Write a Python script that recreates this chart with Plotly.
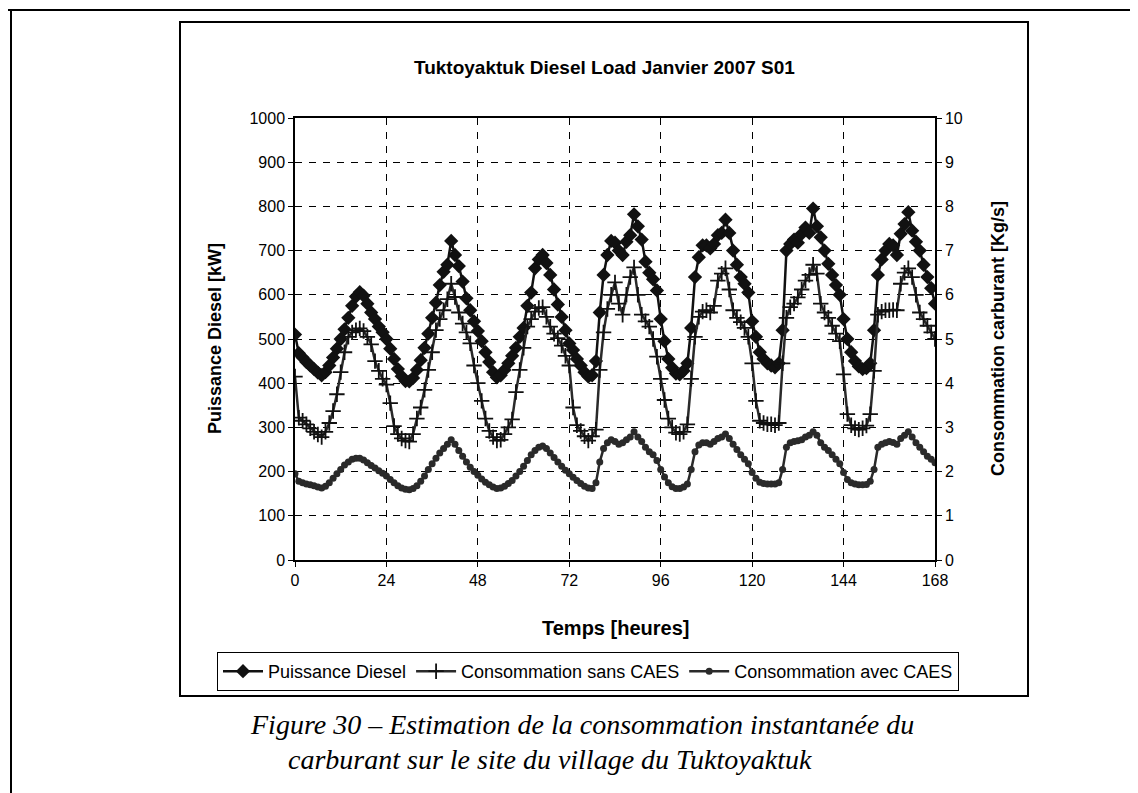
import plotly.graph_objects as go

# hourly samples over one week (S01, January 2007)
hours = list(range(0, 169))

diesel_kw = [
    510, 468, 458, 448, 440, 432, 424, 418, 425, 440,
    458, 478, 500, 522, 548, 575, 596, 606, 598, 580,
    560, 545, 528, 515, 500, 478, 455, 432, 416, 405,
    404, 412, 430, 452, 480, 512, 548, 582, 622, 652,
    668, 722, 690, 665, 630, 592, 565, 540, 518, 495,
    470, 448, 425, 413, 418, 430, 445, 462, 480, 505,
    525, 575, 605, 660, 680, 690, 672, 645, 612, 578,
    550, 520, 490, 475, 455, 440, 425, 415, 418, 450,
    560, 645, 690, 722, 718, 700, 690, 720, 735, 782,
    755, 725, 675, 650, 635, 610, 545, 495, 455, 435,
    422, 420, 428, 445, 525, 640, 685, 712, 712, 705,
    715, 735, 740, 770, 740, 700, 668, 640, 625, 605,
    540, 505, 470, 455, 445, 440, 436, 445, 520, 700,
    715, 725, 718, 738, 752, 740, 795, 755, 730, 700,
    670, 645, 622, 600, 545, 500, 470, 450, 438, 432,
    434, 445, 520, 645, 680, 700, 715, 712, 690, 738,
    760, 787, 745, 720, 700, 668, 640, 615, 580,
]

fuel_sans_caes = [
    4.15, 3.22, 3.15, 3.07, 2.98, 2.90, 2.84, 2.78, 2.90, 3.10,
    3.37, 3.75, 4.25, 4.70, 5.05, 5.15, 5.20, 5.24, 5.18, 5.05,
    4.88, 4.50, 4.28, 4.10, 3.97, 3.55, 3.03, 2.85, 2.75, 2.70,
    2.68, 2.85, 3.20, 3.45, 3.85, 4.30, 4.70, 5.20, 5.45, 5.65,
    5.90, 6.25, 5.95, 5.60, 5.35, 5.15, 4.90, 4.40, 4.00, 3.60,
    3.20, 2.92, 2.78, 2.70, 2.72, 2.85, 3.00, 3.18, 3.80, 4.30,
    4.80, 5.28, 5.45, 5.62, 5.70, 5.72, 5.50, 5.28, 5.12, 5.02,
    4.85, 4.62, 4.40, 3.45, 3.05, 2.92, 2.80, 2.70, 2.80, 2.95,
    4.30, 5.15, 5.68, 6.00, 6.28, 5.80, 5.55, 6.00, 6.40, 6.62,
    6.00, 5.55, 5.40, 5.28, 5.00, 4.60, 4.10, 3.62, 3.20, 3.00,
    2.88, 2.85, 2.90, 3.07, 4.10, 5.05, 5.50, 5.62, 5.65, 5.60,
    5.75, 6.32, 6.48, 6.60, 6.12, 5.65, 5.48, 5.38, 5.25, 5.05,
    4.45, 3.60, 3.15, 3.10, 3.07, 3.07, 3.05, 3.10, 4.45, 5.48,
    5.72, 5.80, 5.94, 6.12, 6.32, 6.45, 6.68, 6.48, 5.80, 5.60,
    5.48, 5.30, 5.12, 4.95, 4.20, 3.30, 3.05, 2.98, 2.95, 2.98,
    3.04, 3.30, 4.28, 5.55, 5.62, 5.65, 5.65, 5.66, 5.65, 6.25,
    6.50, 6.60, 6.40, 6.00, 5.60, 5.45, 5.30, 5.15, 5.00,
]

fuel_avec_caes = [
    1.95, 1.78, 1.75, 1.72, 1.70, 1.68, 1.65, 1.63, 1.67, 1.75,
    1.85, 1.95, 2.05, 2.15, 2.22, 2.28, 2.30, 2.30, 2.26, 2.20,
    2.14, 2.08, 2.02, 1.96, 1.90, 1.82, 1.75, 1.68, 1.63, 1.60,
    1.59, 1.62, 1.68, 1.78, 1.90, 2.05, 2.18, 2.30, 2.42, 2.52,
    2.62, 2.72, 2.62, 2.48, 2.35, 2.22, 2.10, 2.00, 1.92, 1.83,
    1.76, 1.70, 1.65, 1.62, 1.63, 1.67, 1.73, 1.80, 1.90, 2.00,
    2.12, 2.25, 2.38, 2.48, 2.55, 2.58, 2.52, 2.42, 2.32, 2.22,
    2.12, 2.03, 1.95, 1.87, 1.80, 1.73, 1.67, 1.63, 1.62, 1.75,
    2.22, 2.52, 2.65, 2.72, 2.68, 2.62, 2.65, 2.72, 2.78, 2.90,
    2.78, 2.68, 2.55, 2.45, 2.38, 2.25, 2.05, 1.88, 1.75, 1.66,
    1.62, 1.62, 1.65, 1.72, 2.05, 2.45, 2.60, 2.65, 2.65, 2.62,
    2.68, 2.75, 2.78, 2.85, 2.75, 2.62, 2.50, 2.38, 2.28, 2.18,
    1.98, 1.85, 1.76, 1.73, 1.72, 1.72, 1.72, 1.75, 2.05, 2.55,
    2.65, 2.68, 2.70, 2.72, 2.78, 2.82, 2.90, 2.82, 2.65, 2.55,
    2.48, 2.38, 2.28, 2.18, 1.98, 1.82, 1.75, 1.72, 1.70, 1.70,
    1.71, 1.78, 2.05, 2.55, 2.62, 2.65, 2.68, 2.66, 2.62, 2.75,
    2.82, 2.90, 2.78, 2.65, 2.55, 2.45, 2.35, 2.28, 2.20,
]

x_ticks = [0, 24, 48, 72, 96, 120, 144, 168]

FONT = "Liberation Sans, Arial, sans-serif"
SERIF = "Liberation Serif, Times New Roman, serif"

W, H = 1138, 793
PL, PR, PT, PB = 287, 927, 110, 552  # plot area in pixels


def px(x):
    return (x - PL) / (PR - PL)


def py(y):
    return (PB - y) / (PB - PT)


fig = go.Figure()
fig.add_trace(go.Scatter(
    x=hours, y=diesel_kw, name="Puissance Diesel", mode="lines+markers",
    line=dict(color="#111111", width=2.5),
    marker=dict(symbol="diamond", size=11, color="#111111"),
))
fig.add_trace(go.Scatter(
    x=hours, y=fuel_sans_caes, name="Consommation sans CAES", mode="lines+markers",
    yaxis="y2", line=dict(color="#2a2a2a", width=2.5),
    marker=dict(symbol="cross-thin", size=11, line=dict(color="#111111", width=1.8)),
))
fig.add_trace(go.Scatter(
    x=hours, y=fuel_avec_caes, name="Consommation avec CAES", mode="lines+markers",
    yaxis="y2", line=dict(color="#2a2a2a", width=2.5),
    marker=dict(symbol="circle", size=7, color="#2a2a2a"),
))

grid = dict(showgrid=True, gridcolor="#000000", gridwidth=1, griddash="7px,7px")
axis_common = dict(showline=True, linecolor="#000000", linewidth=1.5,
                   ticks="outside", ticklen=5, tickcolor="#000000",
                   tickfont=dict(family=FONT, size=16, color="#000000"), zeroline=False)

fig.update_layout(
    width=W, height=H,
    margin=dict(l=PL, r=W - PR, t=PT, b=H - PB),
    paper_bgcolor="white", plot_bgcolor="white",
    font=dict(family=FONT, color="#000000"),
    xaxis=dict(range=[0, 168], tickvals=x_ticks, mirror=True, **grid, **axis_common),
    yaxis=dict(range=[0, 1000], dtick=100, mirror=False, **grid, **axis_common),
    yaxis2=dict(range=[0, 10], dtick=1, overlaying="y", side="right", showgrid=False,
                **axis_common),
    legend=dict(
        orientation="h", x=px(209), y=py(644), xanchor="left", yanchor="top",
        bordercolor="#000000", borderwidth=1, bgcolor="white",
        font=dict(family=FONT, size=18, color="#000000"),
        itemwidth=40, tracegroupgap=0,
    ),
    showlegend=True,
)

annotations = [
    dict(text="<b>Tuktoyaktuk Diesel Load Janvier 2007 S01</b>", x=px(596), y=py(60),
         font=dict(size=19)),
    dict(text="<b>Puissance Diesel [kW]</b>", x=px(207), y=py(331), textangle=-90,
         font=dict(size=18)),
    dict(text="<b>Consommation carburant [Kg/s]</b>", x=px(990), y=py(331), textangle=-90,
         font=dict(size=18)),
    dict(text="<b>Temps [heures]</b>", x=px(607), y=py(620), font=dict(size=20)),
    dict(text="<i>Figure 30 – Estimation de la consommation instantanée du</i>",
         x=px(240), y=py(716), xanchor="left",
         font=dict(family=SERIF, size=28)),
    dict(text="<i>carburant sur le site du village du Tuktoyaktuk</i>",
         x=px(278), y=py(751), xanchor="left",
         font=dict(family=SERIF, size=28)),
]
for a in annotations:
    a.setdefault("xanchor", "center")
    fig.add_annotation(xref="paper", yref="paper", showarrow=False, yanchor="middle", **a)

# chart frame and page border
fig.add_shape(type="rect", xref="paper", yref="paper",
              x0=px(172), x1=px(1020), y0=py(688), y1=py(14),
              line=dict(color="#000000", width=2), layer="below")
fig.add_shape(type="line", xref="paper", yref="paper",
              x0=px(0), x1=px(W), y0=py(2), y1=py(2), line=dict(color="#000000", width=2))
fig.add_shape(type="line", xref="paper", yref="paper",
              x0=px(3), x1=px(3), y0=py(2), y1=py(H), line=dict(color="#000000", width=2))

fig.write_html("out.html")
